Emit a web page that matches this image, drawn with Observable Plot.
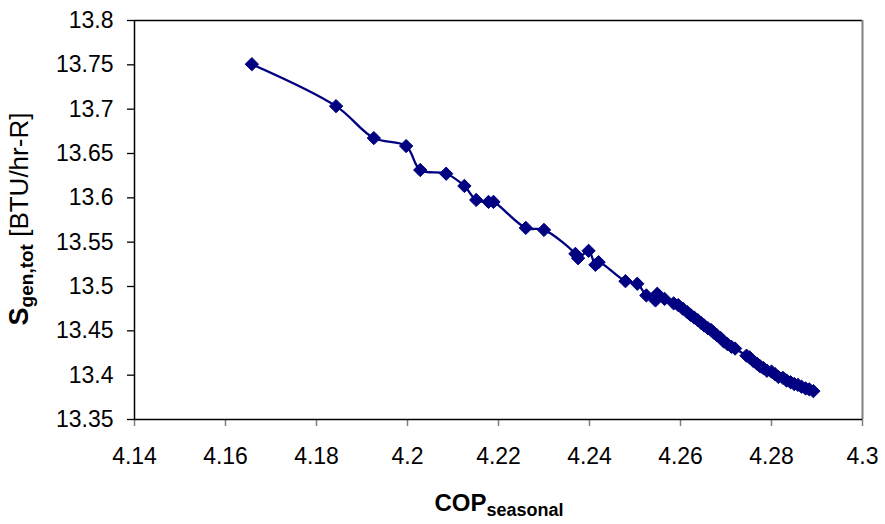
<!DOCTYPE html>
<html>
<head>
<meta charset="utf-8">
<script src="https://cdn.jsdelivr.net/npm/d3@7"></script>
<script src="https://cdn.jsdelivr.net/npm/@observablehq/plot@0.6"></script>
<style>
  html, body { margin: 0; padding: 0; background: #fff; }
  #chart { width: 885px; height: 524px; }
</style>
</head>
<body>
<div id="chart"></div>
<script>
const cop = [
  4.1658, 4.1843, 4.1926, 4.1997, 4.2028, 4.2085, 4.2125, 4.2151, 4.2178, 4.2189,
  4.2260, 4.2300, 4.2369, 4.2375, 4.2398, 4.2413, 4.2420, 4.2479, 4.2505, 4.2525,
  4.2545, 4.2549, 4.2565, 4.2585, 4.2595, 4.2605, 4.2615, 4.2622, 4.2630, 4.2638,
  4.2645, 4.2652, 4.2660, 4.2667, 4.2673, 4.2680, 4.2688, 4.2695, 4.2703, 4.2712,
  4.2720, 4.2745, 4.2752, 4.2760, 4.2768, 4.2775, 4.2782, 4.2790, 4.2800, 4.2808,
  4.2815, 4.2825, 4.2833, 4.2842, 4.2850, 4.2858, 4.2866, 4.2875, 4.2883, 4.2892
];
const sgen = [
  13.7507, 13.7034, 13.6674, 13.6584, 13.6314, 13.6272, 13.6134, 13.5976, 13.5954, 13.5954,
  13.5661, 13.5638, 13.5368, 13.5319, 13.5402, 13.5244, 13.5274, 13.5060, 13.5031, 13.4899,
  13.4843, 13.4918, 13.4860, 13.4810, 13.4790, 13.4750, 13.4710, 13.4680, 13.4650, 13.4620,
  13.4590, 13.4560, 13.4530, 13.4510, 13.4480, 13.4450, 13.4420, 13.4380, 13.4350, 13.4320,
  13.4300, 13.4220, 13.4200, 13.4160, 13.4130, 13.4100, 13.4080, 13.4050, 13.4040, 13.4010,
  13.3980, 13.3970, 13.3940, 13.3920, 13.3900, 13.3890, 13.3870, 13.3850, 13.3840, 13.3820
];
const xTicks = [4.14, 4.16, 4.18, 4.2, 4.22, 4.24, 4.26, 4.28, 4.3];
const yTicks = [13.35, 13.4, 13.45, 13.5, 13.55, 13.6, 13.65, 13.7, 13.75, 13.8];
const xTitle = "COP";
const xTitleSub = "seasonal";
const yTitle = "S";
const yTitleSub = "gen,tot";
const yTitleRest = " [BTU/hr-R]";

const data = cop.map((c, i) => ({cop: c, s: sgen[i]}));
const fmt = d => String(+d.toFixed(2));
const navy = "#000080";

const chart = Plot.plot({
  width: 885,
  height: 524,
  marginLeft: 134,
  marginRight: 23,
  marginTop: 20,
  marginBottom: 105,
  style: {fontFamily: "Arial, 'Liberation Sans', sans-serif", fontSize: "23px", color: "#000", background: "#fff"},
  x: {domain: [4.14, 4.3]},
  y: {domain: [13.35, 13.8]},
  marks: [
    Plot.axisX({ticks: xTicks, tickFormat: fmt, tickSize: 7, tickPadding: 21, stroke: "#808080", strokeWidth: 1.5, label: null, fill: "#000", fontSize: 23}),
    Plot.axisY({ticks: yTicks, tickFormat: fmt, tickSize: 7, tickPadding: 14, stroke: "#000", strokeWidth: 1.3, label: null, fill: "#000", fontSize: 23}),
    Plot.ruleY([13.8], {stroke: "#000", strokeWidth: 1.3}),
    Plot.ruleX([4.3], {stroke: "#808080", strokeWidth: 2}),
    Plot.ruleY([13.35], {stroke: "#000", strokeWidth: 1.3}),
    Plot.ruleX([4.14], {stroke: "#000", strokeWidth: 1.5}),
    Plot.line(data, {x: "cop", y: "s", curve: "catmull-rom", stroke: navy, strokeWidth: 2.3}),
    Plot.dot(data, {x: "cop", y: "s", symbol: "diamond2", r: 6, fill: navy, stroke: navy, strokeWidth: 1})
  ]
});

const svg = d3.select(chart);
const xt = svg.append("text")
  .attr("x", 499).attr("y", 511)
  .attr("text-anchor", "middle")
  .attr("font-family", "Arial, 'Liberation Sans', sans-serif")
  .attr("font-weight", "bold")
  .attr("fill", "#000");
xt.append("tspan").attr("font-size", 24).text(xTitle);
xt.append("tspan").attr("font-size", 18).attr("dy", 5).text(xTitleSub);

const yt = svg.append("text")
  .attr("transform", "translate(28,219) rotate(-90)")
  .attr("text-anchor", "middle")
  .attr("font-family", "Arial, 'Liberation Sans', sans-serif")
  .attr("fill", "#000");
yt.append("tspan").attr("font-size", 27).attr("font-weight", "bold").text(yTitle);
yt.append("tspan").attr("font-size", 19).attr("font-weight", "bold").attr("dy", 5).text(yTitleSub);
yt.append("tspan").attr("font-size", 26).attr("font-weight", "normal").attr("dy", -5).text(yTitleRest);

document.getElementById("chart").appendChild(chart);
</script>
</body>
</html>
